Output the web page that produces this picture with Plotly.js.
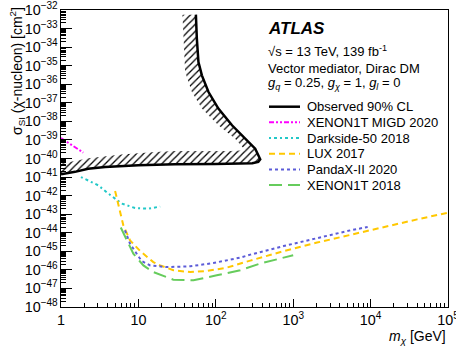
<!DOCTYPE html>
<html>
<head>
<meta charset="utf-8">
<script src="https://cdn.plot.ly/plotly-3.0.1.min.js"></script>
<style>html,body{margin:0;padding:0;background:#fff;}#chart{width:456px;height:348px;}</style>
</head>
<body>
<div id="chart"></div>
<script>
// ---------------- data ----------------
// Observed 90% CL contour (outer solid line), mass in GeV, cross-section in cm^2
const obsMass = [1, 1.52, 2.24, 3.71, 10, 29.8, 98, 240, 296, 354, 375, 323, 240, 162, 108, 80.5, 66.1, 59.7, 56.9, 55.3];
const obsXsec = [1.41e-41, 1.91e-41, 2.82e-41, 3.47e-41, 4.27e-41, 4.90e-41, 5.13e-41, 5.25e-41, 5.50e-41, 6.61e-41, 9.12e-41, 3.39e-40, 1.17e-39, 6.17e-39, 4.90e-38, 3.80e-37, 3.02e-36, 1.58e-35, 2.88e-34, 5.62e-33];
// inner edge of the hatched band (from the top back to the left edge)
const hatchMass = [37.1, 38.2, 40.2, 49.1, 66.1, 108, 178, 240, 154, 29.8, 16.4, 6.15, 2.24, 1];
const hatchXsec = [5.62e-33, 2.88e-34, 4.57e-36, 3.80e-37, 4.90e-38, 6.17e-39, 1.17e-39, 2.75e-40, 2.57e-40, 2.51e-40, 2.24e-40, 1.62e-40, 1.02e-40, 5.25e-41];

const migdMass = [1, 1.24, 1.52, 1.94];
const migdXsec = [1.26e-39, 7.24e-40, 4.17e-40, 2.09e-40];

const darksideMass = [1.81, 3.04, 4.09, 6.1, 9.05, 13.5, 19.1];
const darksideXsec = [1.0e-41, 3.55e-42, 1.29e-42, 3.72e-43, 2.14e-43, 2.0e-43, 2.57e-43];

const luxMass = [5.0, 5.51, 5.92, 6.39, 7.8, 10.5, 15.6, 19.1, 28.3, 46.7, 76.7, 139, 279, 751, 2032, 5480, 14780, 40000, 100000];
const luxXsec = [1.78e-42, 3.72e-43, 8.71e-44, 2.51e-44, 3.89e-45, 1.05e-45, 2.63e-46, 1.74e-46, 9.55e-47, 7.59e-47, 8.71e-47, 1.32e-46, 3.16e-46, 1.02e-45, 2.95e-45, 7.94e-45, 2.04e-44, 5.25e-44, 1.20e-43];

const pandaMass = [6.7, 7.8, 9.5, 11.0, 14.2, 23.3, 46.7, 93, 207, 279, 751, 2032, 5480, 9170];
const pandaXsec = [1.35e-44, 2.57e-45, 7.41e-46, 3.02e-46, 1.74e-46, 1.41e-46, 1.55e-46, 2.34e-46, 4.57e-46, 6.61e-46, 1.91e-45, 5.25e-45, 1.35e-44, 2.04e-44];

const xenonMass = [5.92, 7.08, 8.6, 11.6, 15.6, 28.3, 51.5, 103, 207, 375, 1000];
const xenonXsec = [1.91e-44, 3.89e-45, 7.41e-46, 1.74e-46, 7.59e-47, 2.95e-47, 2.75e-47, 5.13e-47, 9.55e-47, 2.19e-46, 6.17e-46];

const seriesNames = ['Observed 90% CL', 'XENON1T MIGD 2020', 'Darkside-50 2018', 'LUX 2017', 'PandaX-II 2020', 'XENON1T 2018'];

// ---------------- styling / layout ----------------
const FONT = 'Liberation Sans, Arial, Helvetica, sans-serif';
const L = 61, R = 8, T = 10, B = 41;
const W = 456 - L - R, H = 348 - T - B;
const px = x => (x - L) / W;
const py = y => (H + T - y) / H;

const styles = [
  {color: '#000000', width: 2.5, dash: 'solid'},
  {color: '#ff00ff', width: 2, dash: '5px,2px,2px,2px,2px,2px'},
  {color: '#22c8c8', width: 2, dash: '2px,3px,3px,3px'},
  {color: '#ffc800', width: 2, dash: '6px,4px'},
  {color: '#5c5cd8', width: 2, dash: '3px,3px'},
  {color: '#66cc5c', width: 2, dash: '13px,6px'}
];

const traces = [
  {
    x: obsMass.concat(hatchMass), y: obsXsec.concat(hatchXsec),
    type: 'scatter', mode: 'lines', fill: 'toself',
    fillcolor: 'rgba(255,255,255,0)',
    fillpattern: {shape: '/', fgcolor: '#000000', bgcolor: 'rgba(255,255,255,0)', size: 5, solidity: 0.25},
    line: {width: 0}, hoverinfo: 'skip', showlegend: false
  }
];
const xs = [obsMass, migdMass, darksideMass, luxMass, pandaMass, xenonMass];
const ys = [obsXsec, migdXsec, darksideXsec, luxXsec, pandaXsec, xenonXsec];
for (let i = 0; i < xs.length; i++) {
  traces.push({x: xs[i], y: ys[i], type: 'scatter', mode: 'lines', name: seriesNames[i],
    line: {color: styles[i].color, width: styles[i].width, dash: styles[i].dash}, showlegend: false});
}

// hand-placed legend (to match the compact ROOT legend spacing)
const legY0 = 106.7, legDY = 15.67;
const shapes = [], annotations = [];
for (let i = 0; i < seriesNames.length; i++) {
  const yy = py(legY0 + i * legDY);
  shapes.push({type: 'line', xref: 'paper', yref: 'paper', x0: px(269), x1: px(300), y0: yy, y1: yy,
    line: {color: styles[i].color, width: styles[i].width, dash: styles[i].dash}});
  annotations.push({xref: 'paper', yref: 'paper', x: px(305), y: yy, xanchor: 'left', yanchor: 'middle',
    text: seriesNames[i], showarrow: false, font: {family: FONT, size: 13, color: '#000'}});
}
annotations.push(
  {xref: 'paper', yref: 'paper', x: px(266), y: py(28.5), xanchor: 'left', yanchor: 'middle', showarrow: false,
   text: '<b><i>ATLAS</i></b>', font: {family: FONT, size: 17, color: '#000'}},
  {xref: 'paper', yref: 'paper', x: px(266), y: py(51), xanchor: 'left', yanchor: 'middle', showarrow: false,
   text: '√s = 13 TeV, 139 fb<sup>-1</sup>', font: {family: FONT, size: 13, color: '#000'}},
  {xref: 'paper', yref: 'paper', x: px(266), y: py(68.3), xanchor: 'left', yanchor: 'middle', showarrow: false,
   text: 'Vector mediator, Dirac DM', font: {family: FONT, size: 13, color: '#000'}},
  {xref: 'paper', yref: 'paper', x: px(266), y: py(83), xanchor: 'left', yanchor: 'middle', showarrow: false,
   text: '<i>g</i><sub><i>q</i></sub> = 0.25, <i>g</i><sub><i>χ</i></sub> = 1, <i>g</i><sub><i>l</i></sub> = 0',
   font: {family: FONT, size: 13, color: '#000'}},
  {xref: 'paper', yref: 'paper', x: px(17), y: py(71), xanchor: 'center', yanchor: 'middle', showarrow: false,
   textangle: -90, text: 'σ<sub>SI</sub> (χ-nucleon) [cm<sup>2</sup>]', font: {family: FONT, size: 14, color: '#000'}},
  {xref: 'paper', yref: 'paper', x: 1, y: py(337), xanchor: 'right', yanchor: 'middle', showarrow: false,
   text: '<i>m</i><sub><i>χ</i></sub> [GeV]', font: {family: FONT, size: 14, color: '#000'}}
);

const axisCommon = {
  type: 'log', dtick: 1, exponentformat: 'power', ticks: 'inside', tickcolor: '#000', tickwidth: 1,
  showline: true, linecolor: '#000', linewidth: 1, mirror: true, showgrid: false, zeroline: false,
  ticklabeloverflow: 'allow',
  tickfont: {family: FONT, size: 11.5, color: '#000'}
};

const layout = {
  width: 456, height: 348,
  margin: {l: L, r: R, t: T, b: B, pad: 0},
  paper_bgcolor: '#ffffff', plot_bgcolor: '#ffffff',
  font: {family: FONT, color: '#000'},
  showlegend: false,
  xaxis: Object.assign({}, axisCommon, {range: [0, 5.0002], ticklen: 8,
    minor: {ticks: 'inside', ticklen: 4, dtick: 'D1', tickcolor: '#000', showgrid: false}}),
  yaxis: Object.assign({}, axisCommon, {range: [-48.0002, -31.9998], ticklen: 11,
    minor: {ticks: 'inside', ticklen: 5, dtick: 'D1', tickcolor: '#000', showgrid: false}}),
  shapes: shapes,
  annotations: annotations
};

Plotly.newPlot('chart', traces, layout, {displayModeBar: false, staticPlot: true});
</script>
</body>
</html>
